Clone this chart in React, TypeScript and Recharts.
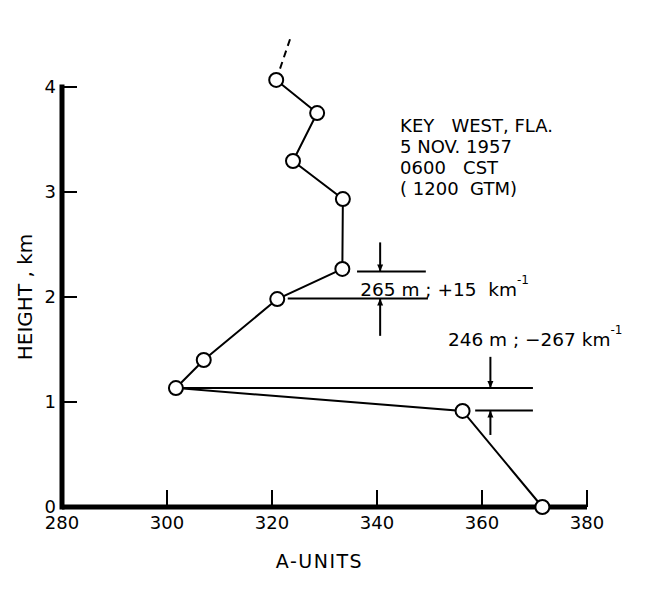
import React from 'react';
import { LineChart, Line, XAxis, YAxis, ReferenceLine, ReferenceDot } from 'recharts';

// A-units (x) and height in km (y) of the refractivity profile
const aUnits = [371.5, 356.3, 301.7, 307.0, 321.0, 333.4, 333.5, 324.0, 328.6, 320.8];
const heightsKm = [0, 0.915, 1.133, 1.4, 1.98, 2.267, 2.933, 3.295, 3.752, 4.067];

// dashed continuation above the top sounding point
const extA = [320.8, 323.6];
const extH = [4.067, 4.48];

const xTicks = [280, 300, 320, 340, 360, 380];
const yTicks = [0, 1, 2, 3, 4];

const stationLines = ['KEY   WEST, FLA.', '5 NOV. 1957', '0600   CST', '( 1200  GTM)'];
const stationAnchor = [344.4, 3.638];

// annotation guide lines: [a1, h1, a2, h2]
const guideLines = [
  [336.2, 2.243, 349.3, 2.243],
  [323.0, 1.986, 349.7, 1.986],
  [301.7, 1.133, 369.7, 1.133],
  [358.7, 0.919, 369.7, 0.919],
];
// arrows: from [a1,h1] to [a2,h2]
const arrows = [
  [340.6, 2.52, 340.6, 2.243],
  [340.6, 1.63, 340.6, 1.986],
  [361.6, 1.43, 361.6, 1.133],
  [361.6, 0.686, 361.6, 0.919],
];
const layerLabels = [
  { a: 336.8, h: 2.076, main: '265 m ; +15  km', sup: '-1' },
  { a: 353.5, h: 1.6, main: '246 m ; \u2212267 km', sup: '-1' },
];

const FONT = '"DejaVu Sans", sans-serif';

const profile = aUnits.map((a, i) => ({ a, h: heightsKm[i] }));
const extension = extA.map((a, i) => ({ a, h: extH[i] }));

const ArrowShape = (props: any) => {
  const { x1, y1, x2, y2 } = props;
  const ang = Math.atan2(y2 - y1, x2 - x1);
  const L = 7;
  const W = 3;
  const bx = x2 - L * Math.cos(ang);
  const by = y2 - L * Math.sin(ang);
  const px = -Math.sin(ang) * W;
  const py = Math.cos(ang) * W;
  return (
    <g>
      <line x1={x1} y1={y1} x2={x2} y2={y2} stroke="#000" strokeWidth={2} />
      <polygon points={`${x2},${y2} ${bx + px},${by + py} ${bx - px},${by - py}`} fill="#000" />
    </g>
  );
};

const stationShape = (props: any) => {
  const { cx, cy } = props;
  return (
    <text x={cx} y={cy} fill="#000" fontSize={18} fontFamily={FONT} dominantBaseline="central">
      {stationLines.map((s, i) => (
        <tspan key={i} x={cx} dy={i === 0 ? 0 : 21} style={{ whiteSpace: 'pre' }}>
          {s}
        </tspan>
      ))}
    </text>
  );
};

const makeLayerShape = (main: string, sup: string) => (props: any) => {
  const { cx, cy } = props;
  return (
    <text x={cx} y={cy} fill="#000" fontSize={18.5} fontFamily={FONT} dominantBaseline="central" style={{ whiteSpace: 'pre' }}>
      {main}
      <tspan dy={-9} fontSize={12}>{sup}</tspan>
    </text>
  );
};

const YTitle = (props: any) => {
  const vb = props.viewBox || {};
  const x = vb.x + 17;
  const cy = vb.y + vb.height * (1 - 2 / 4.5);
  return (
    <text
      x={x}
      y={cy}
      fill="#000"
      fontSize={20}
      fontFamily={FONT}
      textAnchor="middle"
      dominantBaseline="central"
      transform={`rotate(-90 ${x} ${cy})`}
    >
      HEIGHT , km
    </text>
  );
};

export default function App() {
  return (
    <LineChart width={634} height={576} data={profile} margin={{ top: 26.5, right: 55, bottom: 0, left: 0 }}>
      <XAxis
        dataKey="a"
        type="number"
        domain={[280, 380]}
        ticks={xTicks}
        interval={0}
        allowDataOverflow
        tickSize={-17}
        tickMargin={26}
        height={77}
        axisLine={{ stroke: '#000', strokeWidth: 5 }}
        tickLine={{ stroke: '#000', strokeWidth: 2 }}
        tick={{ fill: '#000', fontSize: 18, fontFamily: FONT }}
        label={{ value: 'A-UNITS', position: 'insideBottom', offset: 16, dx: -5, fill: '#000', fontSize: 19, letterSpacing: 1.5, fontFamily: FONT }}
      />
      <YAxis
        type="number"
        domain={[0, 4.5]}
        ticks={yTicks}
        interval={0}
        width={54}
        tickSize={-15}
        tickMargin={21}
        axisLine={false}
        tickLine={{ stroke: '#000', strokeWidth: 2 }}
        tick={{ fill: '#000', fontSize: 18, fontFamily: FONT }}
        label={<YTitle />}
      />
      <ReferenceLine
        segment={[{ x: 280, y: 0 }, { x: 280, y: 4 }]}
        stroke="#000"
        strokeWidth={5}
        strokeLinecap="square"
      />
      {guideLines.map((g, i) => (
        <ReferenceLine
          key={'g' + i}
          segment={[{ x: g[0], y: g[1] }, { x: g[2], y: g[3] }]}
          stroke="#000"
          strokeWidth={2}
        />
      ))}
      {arrows.map((g, i) => (
        <ReferenceLine
          key={'ar' + i}
          segment={[{ x: g[0], y: g[1] }, { x: g[2], y: g[3] }]}
          stroke="#000"
          strokeWidth={2}
          shape={ArrowShape}
        />
      ))}
      <Line
        data={extension}
        dataKey="h"
        type="linear"
        stroke="#000"
        strokeWidth={2}
        strokeDasharray="7 5"
        dot={false}
        isAnimationActive={false}
      />
      <Line
        dataKey="h"
        type="linear"
        stroke="#000"
        strokeWidth={2}
        dot={{ r: 7, stroke: '#000', strokeWidth: 2, fill: '#fff' }}
        isAnimationActive={false}
      />
      <ReferenceDot x={stationAnchor[0]} y={stationAnchor[1]} r={0} shape={stationShape} />
      {layerLabels.map((l, i) => (
        <ReferenceDot key={'l' + i} x={l.a} y={l.h} r={0} shape={makeLayerShape(l.main, l.sup)} />
      ))}
    </LineChart>
  );
}
